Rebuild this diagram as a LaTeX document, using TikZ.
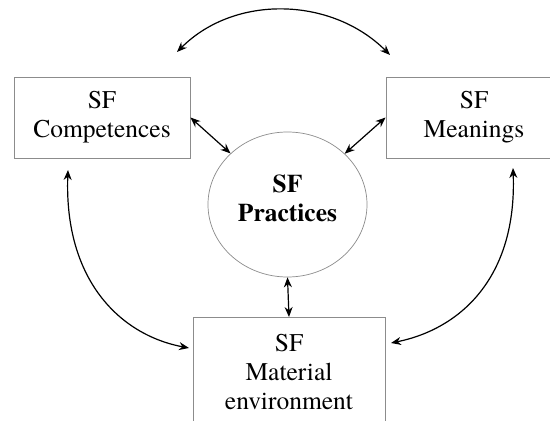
\documentclass[tikz,border=0pt]{standalone}
\usepackage{fontspec}
\setmainfont{texgyretermes}[Extension=.otf, UprightFont=*-regular, BoldFont=*-bold]
\usetikzlibrary{arrows.meta,shapes.geometric}
\definecolor{framegray}{RGB}{140,140,140}

\tikzset{
    box/.style={draw=framegray, line width=0.9pt, rectangle, align=center,
        font=\fontsize{25.5}{29}\selectfont},
    hub/.style={draw=framegray, line width=0.7pt, ellipse, align=center,
        font=\fontsize{25.5}{29}\selectfont\bfseries},
    link/.style={{Stealth[length=10pt,width=8pt]}-{Stealth[length=10pt,width=8pt]},
        line width=1.2pt}
}

\begin{document}
\begin{tikzpicture}[x=1pt, y=1pt]
    \useasboundingbox[fill=white] (0,0) rectangle (550,421);

    % the four dimensions
    \node[box, minimum width=176pt, minimum height=81pt] (comp) at (102,303.5) {SF\\Competences};
    \node[box, minimum width=176pt, minimum height=81pt] (mean) at (474,303.5) {SF\\Meanings};
    \node[hub, minimum width=159pt, minimum height=145pt, text depth=12pt] (prac) at (287.5,216.5) {SF\\Practices};
    \node[box, minimum width=192pt, minimum height=109pt, anchor=north] (mat) at (289,104) {SF\\Material\\environment};

    % free ends of the long arcs
    \coordinate (compTop) at (177,369);
    \coordinate (meanTop) at (390,366);
    \coordinate (compBot) at (68,251);
    \coordinate (meanBot) at (513,253);
    \coordinate (matLeft) at (189,73);
    \coordinate (matRight) at (391,78);

    % links to the practices
    \draw[link] (comp.east) -- (prac);
    \draw[link] (mean.west) -- (prac);
    \draw[link] (prac.south) -- (mat.north);

    % long arcs
    \draw[link] (compTop) .. controls (235,427) and (332,424) .. (meanTop);
    \draw[link] (compBot) .. controls (64,141) and (120,86) .. (matLeft);
    \draw[link] (meanBot) .. controls (517,143) and (460,92) .. (matRight);
\end{tikzpicture}
\end{document}
